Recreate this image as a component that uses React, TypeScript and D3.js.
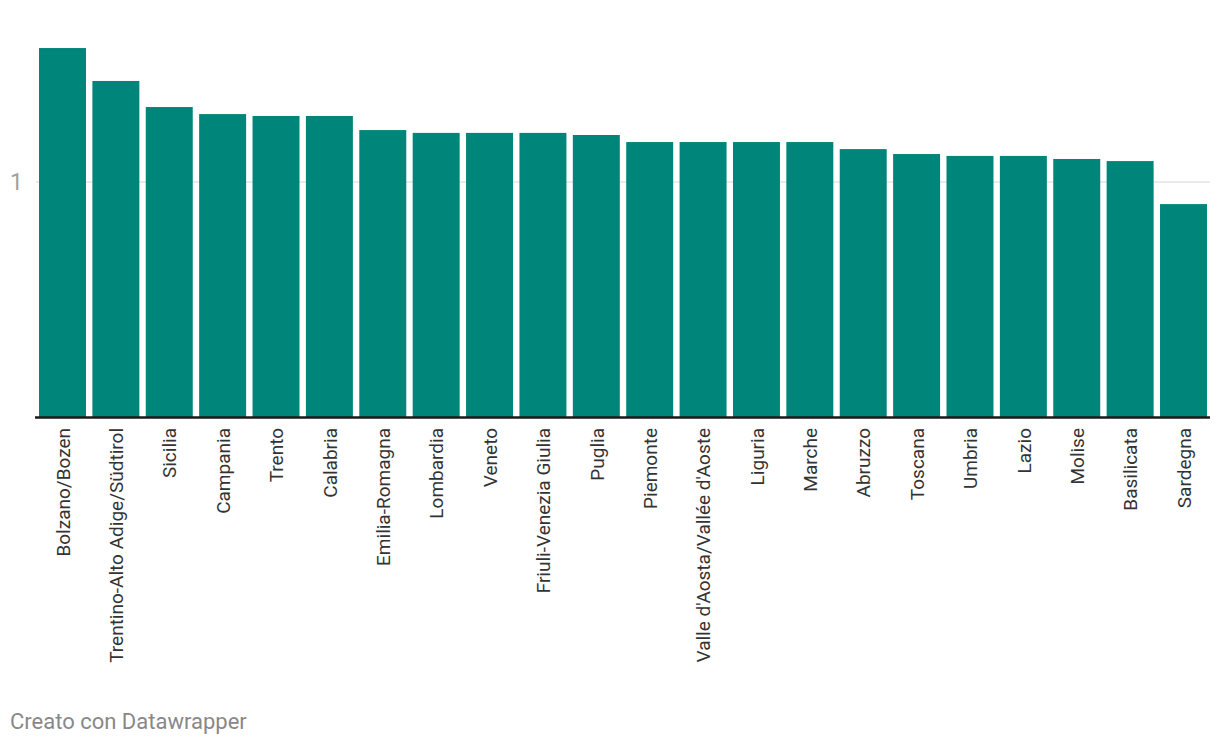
import React from "react";
import * as d3 from "d3";

const regions = [
  "Bolzano/Bozen",
  "Trentino-Alto Adige/Südtirol",
  "Sicilia",
  "Campania",
  "Trento",
  "Calabria",
  "Emilia-Romagna",
  "Lombardia",
  "Veneto",
  "Friuli-Venezia Giulia",
  "Puglia",
  "Piemonte",
  "Valle d'Aosta/Vallée d'Aoste",
  "Liguria",
  "Marche",
  "Abruzzo",
  "Toscana",
  "Umbria",
  "Lazio",
  "Molise",
  "Basilicata",
  "Sardegna",
];

const values = [
  1.57, 1.43, 1.319, 1.289, 1.281, 1.281, 1.221, 1.209, 1.209, 1.209, 1.2,
  1.17, 1.17, 1.17, 1.17, 1.14, 1.119, 1.111, 1.111, 1.098, 1.089, 0.906,
];

const yTicks = [1];
const footer = "Creato con Datawrapper";

const W = 1220;
const H = 748;

export default function App() {
  const x = d3
    .scaleBand<string>()
    .domain(regions)
    .range([39, 1207])
    .paddingInner(0.12)
    .paddingOuter(0);
  const y = d3.scaleLinear().domain([0, 1]).range([417, 182]);
  const font = "Roboto, sans-serif";

  return (
    <svg
      width={W}
      height={H}
      style={{ position: "absolute", left: 0, top: 0 }}
      fontFamily={font}
    >
      <rect width={W} height={H} fill="#fff" />
      {yTicks.map((t) => (
        <g key={t}>
          <line x1={36} x2={1210} y1={y(t)} y2={y(t)} stroke="#e5e5e5" strokeWidth={1.5} />
          <text x={10} y={y(t)} dy="0.36em" fontSize={23} fill="#a0a0a0">
            {t}
          </text>
        </g>
      ))}
      {regions.map((r, i) => (
        <rect
          key={r}
          x={x(r)}
          width={x.bandwidth()}
          y={y(values[i])}
          height={y(0) - y(values[i])}
          fill="#00857a"
        />
      ))}
      <line x1={35} x2={1210} y1={417.5} y2={417.5} stroke="#1a1a1a" strokeWidth={2.5} />
      {regions.map((r) => {
        const cx = (x(r) as number) + x.bandwidth() / 2;
        return (
          <text
            key={r}
            transform={`translate(${cx},428) rotate(-90)`}
            textAnchor="end"
            dy="0.38em"
            fontSize={19}
            fill="#333"
          >
            {r}
          </text>
        );
      })}
      <text x={10} y={729} fontSize={22} fill="#888">
        {footer}
      </text>
    </svg>
  );
}
